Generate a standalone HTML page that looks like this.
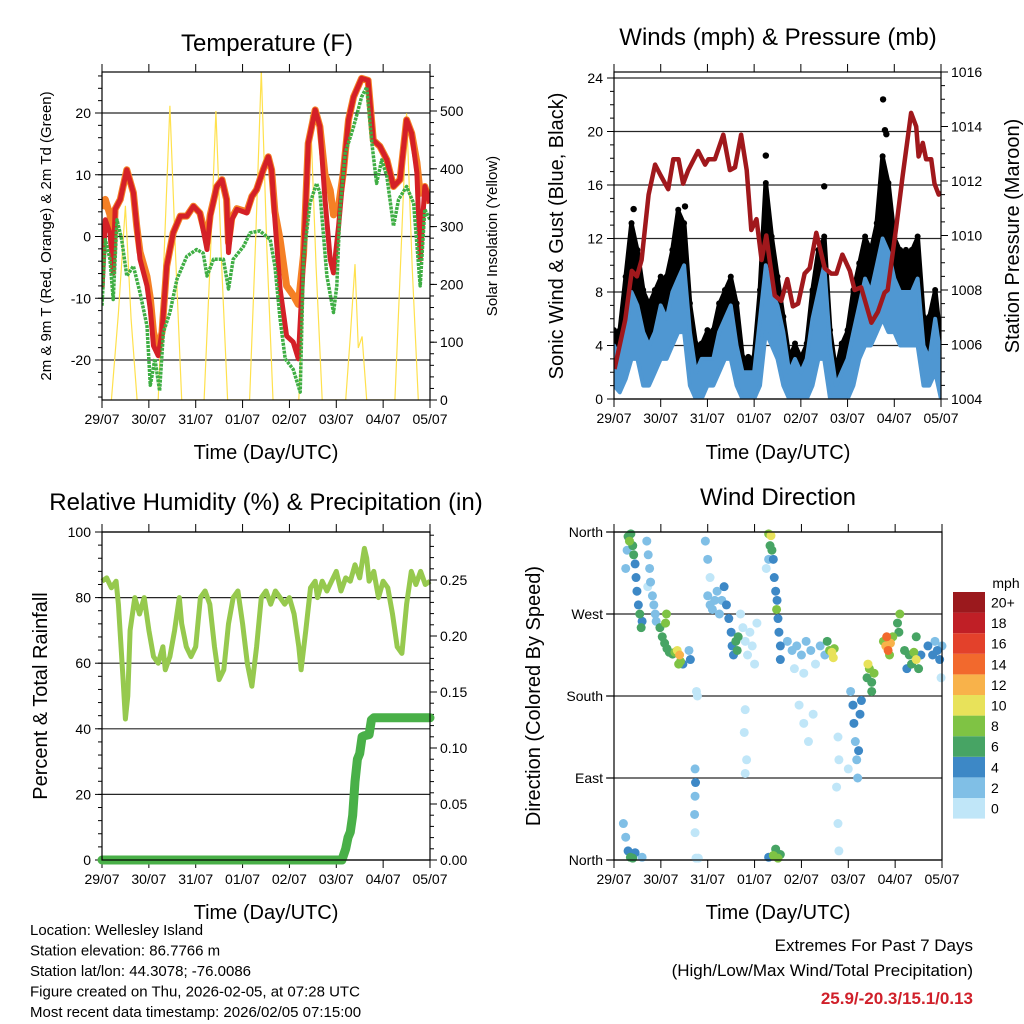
<!DOCTYPE html>
<html><head><meta charset="utf-8"><title>Weather station charts</title>
<style>
html,body{margin:0;padding:0;background:#fff;}
svg{display:block;font-family:"Liberation Sans",sans-serif;}
</style></head>
<body>
<svg id="s" width="1024" height="1024" viewBox="0 0 1024 1024" xmlns="http://www.w3.org/2000/svg">
<rect width="1024" height="1024" fill="#fff"/>
<text x="267" y="51" font-size="24" text-anchor="middle">Temperature (F)</text>
<text x="778" y="45" font-size="24" text-anchor="middle">Winds (mph) &amp; Pressure (mb)</text>
<text x="266" y="510" font-size="24" text-anchor="middle">Relative Humidity (%) &amp; Precipitation (in)</text>
<text x="778" y="505" font-size="24" text-anchor="middle">Wind Direction</text>
<text x="266" y="459" font-size="20" text-anchor="middle">Time (Day/UTC)</text>
<text x="778" y="459" font-size="20" text-anchor="middle">Time (Day/UTC)</text>
<text x="266" y="919" font-size="20" text-anchor="middle">Time (Day/UTC)</text>
<text x="778" y="919" font-size="20" text-anchor="middle">Time (Day/UTC)</text>
<text transform="translate(51,236) rotate(-90)" font-size="15" text-anchor="middle">2m &amp; 9m T (Red, Orange) &amp; 2m Td (Green)</text>
<text transform="translate(497,236) rotate(-90)" font-size="15" text-anchor="middle">Solar Insolation (Yellow)</text>
<text transform="translate(563,236) rotate(-90)" font-size="20" text-anchor="middle">Sonic Wind &amp; Gust (Blue, Black)</text>
<text transform="translate(1019,236) rotate(-90)" font-size="20" text-anchor="middle">Station Pressure (Maroon)</text>
<text transform="translate(47,696) rotate(-90)" font-size="20" text-anchor="middle">Percent &amp; Total Rainfall</text>
<text transform="translate(540,696) rotate(-90)" font-size="20" text-anchor="middle">Direction (Colored By Speed)</text>
<g font-size="15">
<text x="30" y="935">Location: Wellesley Island</text>
<text x="30" y="955.5">Station elevation: 86.7766 m</text>
<text x="30" y="976">Station lat/lon: 44.3078; -76.0086</text>
<text x="30" y="996.5">Figure created on Thu, 2026-02-05, at 07:28 UTC</text>
<text x="30" y="1017">Most recent data timestamp: 2026/02/05 07:15:00</text>
</g>
<text x="973" y="951" font-size="17" text-anchor="end">Extremes For Past 7 Days</text>
<text x="973" y="976" font-size="17" text-anchor="end">(High/Low/Max Wind/Total Precipitation)</text>
<text x="973" y="1004" font-size="17" font-weight="bold" fill="#d0202a" text-anchor="end">25.9/-20.3/15.1/0.13</text>
</svg>
<script>
// ---------- DATA ----------
var dayLabels = ["29/07","30/07","31/07","01/07","02/07","03/07","04/07","05/07"];
var tempTimes = [0,0.07,0.17,0.24,0.28,0.39,0.53,0.67,0.74,0.81,0.96,1.03,1.10,1.20,1.28,1.38,1.52,1.67,1.81,1.95,2.09,2.20,2.24,2.31,2.45,2.56,2.66,2.70,2.77,2.88,3.09,3.20,3.30,3.44,3.55,3.62,3.69,3.80,3.94,4.08,4.19,4.30,4.40,4.55,4.65,4.76,4.87,4.94,5.05,5.15,5.26,5.37,5.54,5.68,5.79,5.93,6.08,6.22,6.36,6.50,6.61,6.72,6.79,6.89,7.0];
var temp2m = [-8.5,2.7,0.6,-5.9,4.4,6.0,10.8,7.1,1.7,-3.7,-8.0,-11.8,-17.7,-19.3,-15.5,-4.8,0.6,3.3,3.3,4.9,3.8,-0.5,-2.1,3.3,8.1,9.2,6.0,-2.6,2.7,4.4,3.8,6.5,7.6,10.8,12.9,10.8,2.7,-8.5,-16.1,-17.1,-19.8,-3.7,15.1,20.5,17.8,6.0,-3.7,-5.9,1.7,10.3,18.9,22.6,25.6,25.3,15.6,14.6,12.4,8.1,9.2,18.9,16.7,10.3,-3.7,8.1,5.4];
var temp9m = [4.5,6.0,3.5,-3.0,4.4,6.0,10.8,7.1,1.7,-2.5,-6.5,-10.0,-15.5,-18.5,-15.5,-4.8,0.6,3.3,3.3,4.9,3.8,0.5,-1.0,3.5,8.1,9.2,6.0,-1.0,3.0,4.5,4.0,6.5,7.6,10.8,12.9,10.8,4.0,-0.5,-8.0,-9.5,-11.0,-3.0,15.1,20.5,17.8,10.0,7.5,3.5,5.0,10.3,18.9,22.6,25.6,25.3,15.6,14.6,12.4,8.1,9.2,18.9,16.7,12.0,7.0,8.1,5.4];
var dewTimes = [0,0.07,0.17,0.24,0.32,0.42,0.53,0.67,0.81,0.96,1.03,1.13,1.23,1.31,1.45,1.60,1.81,2.02,2.16,2.24,2.38,2.59,2.70,2.80,3.02,3.16,3.37,3.59,3.69,3.80,3.91,4.08,4.23,4.30,4.44,4.58,4.65,4.80,4.94,5.01,5.08,5.19,5.37,5.54,5.65,5.76,5.86,5.97,6.08,6.22,6.33,6.50,6.65,6.79,6.89,7.0];
var dewPoint = [-11.2,-0.5,-3.7,-10.2,2.7,-0.5,-6.4,-4.8,-9.1,-14.5,-24.1,-19.8,-25.0,-15.5,-12.3,-6.9,-3.2,-2.1,-2.7,-6.4,-3.7,-3.7,-8.5,-3.7,-1.6,0.6,0.9,-0.5,-4.8,-13.4,-19.8,-21.5,-25.2,-3.7,5.4,8.6,7.1,-6.4,-12.3,-8.0,4.4,13.5,17.8,22.6,24.2,15.1,8.6,12.4,9.7,1.7,6.0,8.1,5.4,-8.0,4.4,2.7];
var solarTimes = [0.2,0.35,0.5,0.62,0.75, 1.2,1.33,1.45,1.57,1.7, 2.18,2.31,2.43,2.55,2.68, 3.15,3.28,3.40,3.52,3.65, 4.2,4.33,4.45,4.57,4.7, 5.2,5.3,5.4,5.47,5.55,5.65, 6.25,6.38,6.5,6.62,6.75];
var solarVals  = [0,150,336,140,0, 0,260,509,250,0, 0,240,500,240,0, 0,280,570,260,0, 0,240,493,230,0, 0,110,235,90,110,0, 0,250,496,230,0];

var windTimes = [];
for (var k = 0; k <= 56; k++) windTimes.push(k * 0.125);
var windHigh = [4,3,5,8,7,5,4,5,7,6,8,9,10,5,2,3,3,3,5,6,7,4,2,2,2,6,10,8,7,5,2,3,2,3,6,8,10,4,1,2,3,5,7,9,8,10,12,11,9,8,8,8,9,4,3,6,3];
var windLow  = [1,0.5,1.5,3,3,1,1,2,3,3,4,5,5,1,0,0,1,1,2,3,3,1,0,0,0,1,5,4,3,1,0,0,0,0,1,3,3,0,0,0,0,1,3,4,4,5,6,5,5,4,4,4,4,1,1,2,0];
var gustVals = [5,5,9,13,11,8,7,8,9,9,11,14,13,7,4,4,5,5,7,8,9,7,3,3,3,8,16,12,9,6,3,4,3,4,8,11,12,5,2,4,5,8,10,12,11,13,18,16,12,11,11,11,12,6,6,8,4];
var spikeTimes = [5.76,5.80,5.83,3.25,4.50,1.52,0.42];
var spikeVals  = [22.4,20.1,19.8,18.2,15.9,14.4,14.2];
var presTimes = [0.01,0.24,0.38,0.49,0.59,0.74,0.88,1.0,1.16,1.27,1.38,1.48,1.59,1.80,1.95,2.02,2.16,2.34,2.48,2.59,2.72,2.84,2.94,3.05,3.16,3.26,3.33,3.44,3.58,3.71,3.83,3.94,4.08,4.19,4.33,4.51,4.65,4.76,4.89,5.05,5.15,5.29,5.51,5.65,5.79,5.86,6.04,6.18,6.36,6.47,6.52,6.61,6.68,6.79,6.86,6.95,7.0];
var presVals = [1005.1,1006.9,1008.7,1008.5,1009.1,1011.5,1012.6,1012.2,1011.7,1012.8,1012.8,1011.9,1012.4,1013.1,1012.6,1012.8,1012.8,1013.7,1012.4,1012.5,1013.7,1012.4,1010.2,1010.6,1009.1,1010.0,1009.1,1007.8,1007.6,1008.4,1007.4,1007.5,1008.6,1008.8,1010.1,1008.8,1008.6,1008.6,1009.3,1008.7,1008.0,1008.1,1006.8,1007.2,1007.9,1008.0,1010.3,1012.2,1014.5,1014.0,1012.9,1013.4,1012.8,1012.8,1011.9,1011.5,1011.6];

var rhTimes = [0,0.1,0.2,0.3,0.35,0.45,0.5,0.55,0.6,0.7,0.8,0.9,1.0,1.1,1.2,1.3,1.35,1.45,1.55,1.65,1.7,1.8,1.9,2.0,2.1,2.2,2.3,2.4,2.5,2.6,2.7,2.8,2.9,3.0,3.1,3.2,3.3,3.4,3.5,3.6,3.7,3.8,3.9,4.0,4.1,4.2,4.25,4.35,4.45,4.55,4.6,4.7,4.8,4.9,5.0,5.1,5.2,5.3,5.4,5.5,5.6,5.65,5.7,5.8,5.9,6.0,6.1,6.2,6.3,6.4,6.5,6.6,6.7,6.8,6.9,7.0];
var rhVals = [85,86,83,85,78,55,43,50,70,80,75,80,70,62,60,65,58,62,70,80,72,65,62,65,80,82,78,65,55,58,72,80,82,72,60,53,65,80,82,78,82,80,78,80,75,65,58,70,83,85,80,85,82,85,88,82,86,85,90,86,95,92,85,88,80,85,83,75,65,63,78,88,84,88,84,85];
var rainTimes = [0,5.12,5.2,5.25,5.3,5.35,5.4,5.45,5.5,5.55,5.6,5.7,5.75,5.8,7.0];
var rainVals  = [0,0,0.01,0.02,0.025,0.04,0.07,0.09,0.095,0.11,0.111,0.112,0.125,0.127,0.127];

var dirTimes = [0.30,0.33,0.36,0.40,0.42,0.28,0.25, 0.45,0.47,0.49,0.52,0.55,0.58,0.60, 0.70,0.73,0.76,0.78,0.82,0.85,0.88,0.90,0.72, 0.98,1.03,1.08,1.13,1.18,1.25,1.30,1.35,1.40,1.38,1.42,1.47,1.10,1.12, 1.63,1.60,1.76,1.78,1.73,1.74,1.73,1.72,1.73,1.75,1.80, 1.95,2.00,2.05,2.00,2.05,2.10,2.15,2.20,2.25,2.30,2.35,2.40,2.45,2.50,2.52,2.55,2.60,2.65,2.63, 2.70,2.75,2.80,2.85,2.90,2.95,3.00,3.05,2.80,2.78,2.80,2.83, 3.30,3.35,3.33,3.37,3.40,3.42,3.45,3.48,3.47,3.50,3.52,3.55,3.55,3.30,3.25, 3.70,3.80,3.90,4.00,4.10,4.20,4.30,4.40,4.50,3.85,4.05,4.55,4.60,4.65,4.70,4.68, 3.95,4.05,4.15,4.25,4.78,4.80,4.75,4.78,4.80, 5.05,5.10,5.12,5.15,5.18,5.20,5.22,5.25,5.28,5.00, 5.40,5.45,5.50,5.55,5.50,5.42, 5.75,5.80,5.82,5.85,5.90,5.95,5.88,6.05,6.10,6.08, 6.20,6.30,6.35,6.40,6.45,6.50,6.55,6.25,6.45, 6.70,6.80,6.85,6.90,6.95,7.00,6.98, 0.20,0.25,0.30,0.35,0.40,0.45,0.60,3.40,3.45,3.50,3.55,3.30];
var dirDeg = [355,350,358,345,335,340,320, 325,310,295,280,270,255,262, 350,335,320,305,290,280,270,262,300, 255,245,238,232,228,226,228,230,225,215,218,215,260,270, 220,230,185,180,100,85,70,50,30,2,2, 350,330,310,290,280,275,285,295,270,285,300,280,265,250,235,225,240,245,230, 270,255,240,225,250,235,215,260,165,140,95,110, 358,356,345,340,330,310,295,285,275,265,250,235,220,330,320, 240,230,235,225,240,230,215,235,225,210,205,240,230,228,232,222, 170,150,130,160,135,110,80,40,10, 185,170,150,130,110,90,120,160,175,100, 200,210,195,205,185,215, 240,235,245,230,238,245,225,260,270,250, 230,225,215,228,220,210,225,210,245, 235,225,240,230,220,235,200, 40,25,10,3,2,8,3,5,12,2,6,3];
var dirSpeed = [7,8,6,7,6,3,2, 4,4,4,4,6,6,4, 2,2,2,2,3,2,2,3,1, 6,7,6,7,6,7,8,10,12,9,8,4,8,8, 4,3,1,1,2,4,3,2,1,1,1, 2,2,1,3,2,2,2,3,2,3,4,4,4,4,5,4,7,7,6, 1,1,1,1,0,1,1,1,1,0,1,0, 8,10,6,7,5,5,4,4,8,4,4,4,4,2,1, 2,2,3,2,2,3,1,2,3,1,1,7,8,11,9,10, 1,1,1,1,1,1,1,1,0, 3,4,4,3,3,2,4,4,4,1, 7,8,7,9,7,10, 9,12,14,15,13,8,8,7,8,7, 6,7,6,8,10,6,5,5,6, 4,4,3,4,4,3,1, 2,3,5,7,6,4,3,8,6,9,7,4];
var speedBinLabels = ["0","2","4","6","8","10","12","14","16","18","20+"];
var speedBinColors = ["#c0e6f8","#80bfe6","#3d88c6","#47a464","#7fc344","#e8e25a","#f8b24a","#f2692d","#e3412b","#c01f26","#9b191d"];

// ---------- HELPERS ----------
var svg = document.getElementById('s');
var NS = 'http://www.w3.org/2000/svg';
function mk(tag, attrs, name, parent) {
  var el = document.createElementNS(NS, tag);
  for (var k in attrs) el.setAttribute(k, attrs[k]);
  
  
  (parent || svg).appendChild(el);
  return el;
}
function txt(x, y, s, size, anchor, name, parent) {
  var t = mk('text', {x: x, y: y, 'font-size': size, 'text-anchor': anchor}, name, parent);
  t.textContent = s;
  return t;
}
function pts(xs, ys, fx, fy) {
  var a = [];
  for (var i = 0; i < xs.length; i++) a.push(fx(xs[i]).toFixed(1) + ',' + fy(ys[i]).toFixed(1));
  return a.join(' ');
}

function panel(box, name, opt) {
  var g = mk('g', {}, name + '-axes');
  opt.left.forEach(function (v) {
    var y = opt.ly(v);
    mk('line', {x1: box.x0 - (opt.gridExt || 0), x2: box.x1, y1: y, y2: y, stroke: '#000', 'stroke-width': 1.2, 'stroke-opacity': 0.85}, name + '-gridline', g);
  });
  for (var d = 0; d <= 7; d++) {
    var x = box.x0 + d * (box.x1 - box.x0) / 7;
    mk('line', {x1: x, x2: x, y1: box.y1, y2: box.y1 + 8, stroke: '#000', 'stroke-width': 1}, name + '-x-tick', g);
    mk('line', {x1: x, x2: x, y1: box.y0, y2: box.y0 - 8, stroke: '#000', 'stroke-width': 1}, name + '-x-tick-top', g);
    txt(x, box.y1 + 24, dayLabels[d], 14, 'middle', name + '-x-tick-label', g);
  }
  opt.left.forEach(function (v, i) {
    var y = opt.ly(v);
    mk('line', {x1: box.x0 - 7, x2: box.x0, y1: y, y2: y, stroke: '#000'}, name + '-y-tick', g);
    txt(box.x0 - 11, y + 5, opt.leftLabels ? opt.leftLabels[i] : String(v), 14, 'end', name + '-y-tick-label', g);
  });
  (opt.leftMinor || []).forEach(function (v) {
    var y = opt.ly(v);
    mk('line', {x1: box.x0 - 4, x2: box.x0, y1: y, y2: y, stroke: '#000'}, name + '-y-minor-tick', g);
  });
  if (opt.right) {
    opt.right.forEach(function (v, i) {
      var y = opt.ry(v);
      mk('line', {x1: box.x1, x2: box.x1 + 7, y1: y, y2: y, stroke: '#000'}, name + '-right-tick', g);
      txt(box.x1 + 10, y + 5, opt.rightLabels[i], 14, 'start', name + '-right-tick-label', g);
    });
    (opt.rightMinor || []).forEach(function (v) {
      var y = opt.ry(v);
      mk('line', {x1: box.x1, x2: box.x1 + 4, y1: y, y2: y, stroke: '#000'}, name + '-right-minor-tick', g);
    });
  }
  return g;
}
function frame(box, name) {
  mk('rect', {x: box.x0, y: box.y0, width: box.x1 - box.x0, height: box.y1 - box.y0, fill: 'none', stroke: '#000', 'stroke-width': 1.2}, name + '-frame');
}
function range(a, b, s) { var r = []; for (var v = a; v <= b + 1e-9; v += s) r.push(+v.toFixed(3)); return r; }

// ---------- PANEL 1: TEMPERATURE ----------
var B1 = {x0: 102, x1: 430, y0: 72, y1: 400};
function tx(d) { return B1.x0 + d * (B1.x1 - B1.x0) / 7; }
function ty(t) { return 236.5 - t * 6.175; }
function sy(v) { return 400 - v * 0.578; }
var tempLeft = [-20, -10, 0, 10, 20];
panel(B1, 'temp', {left: tempLeft, ly: ty, leftMinor: range(-26, 26, 2),
  right: [0, 100, 200, 300, 400, 500], rightLabels: ['0', '100', '200', '300', '400', '500'], ry: sy, rightMinor: range(0, 560, 20)});
var cp1 = mk('clipPath', {id: 'c1'}, 'temp-clip');
mk('rect', {x: B1.x0, y: B1.y0, width: B1.x1 - B1.x0, height: B1.y1 - B1.y0}, 'temp-clip-rect', cp1);
var g1 = mk('g', {'clip-path': 'url(#c1)'}, 'temp-series');
mk('polyline', {points: pts(solarTimes, solarVals, tx, sy), fill: 'none', stroke: '#ffe14d', 'stroke-width': 1.2}, 'solar-line', g1);
mk('polyline', {points: pts(tempTimes, temp9m, tx, ty), fill: 'none', stroke: '#f58025', 'stroke-width': 7, 'stroke-linejoin': 'round'}, 'temp-9m-line', g1);
mk('polyline', {points: pts(tempTimes, temp2m, tx, ty), fill: 'none', stroke: '#d42027', 'stroke-width': 5, 'stroke-linejoin': 'round'}, 'temp-2m-line', g1);
mk('polyline', {points: pts(dewTimes, dewPoint, tx, ty), fill: 'none', stroke: '#3fae44', 'stroke-width': 3.5, 'stroke-dasharray': '3,1', 'stroke-linejoin': 'round'}, 'dewpoint-line', g1);
frame(B1, 'temp');

// ---------- PANEL 2: WIND & PRESSURE ----------
var B2 = {x0: 614, x1: 941, y0: 72, y1: 399};
function wx(d) { return B2.x0 + d * (B2.x1 - B2.x0) / 7; }
function wy(v) { return 399 - v * 13.375; }
function py(p) { return 399 - (p - 1004) * 27.25; }
panel(B2, 'wind', {left: [0, 4, 8, 12, 16, 20, 24], ly: wy, leftMinor: range(0, 24, 1),
  right: [1004, 1006, 1008, 1010, 1012, 1014, 1016], rightLabels: ['1004', '1006', '1008', '1010', '1012', '1014', '1016'], ry: py, rightMinor: range(1004, 1016, 0.5)});
var cp2 = mk('clipPath', {id: 'c2'}, 'wind-clip');
mk('rect', {x: B2.x0, y: B2.y0, width: B2.x1 - B2.x0, height: B2.y1 - B2.y0}, 'wind-clip-rect', cp2);
var g2 = mk('g', {'clip-path': 'url(#c2)'}, 'wind-series');
var up = [], lo = [];
for (var i = 0; i < windTimes.length; i++) {
  up.push(wx(windTimes[i]).toFixed(1) + ',' + wy(gustVals[i]).toFixed(1));
  lo.unshift(wx(windTimes[i]).toFixed(1) + ',' + wy(windLow[i] + (windHigh[i] - windLow[i]) * 0.4).toFixed(1));
}
mk('polygon', {points: up.concat(lo).join(' '), fill: '#000', stroke: '#000', 'stroke-width': 5, 'stroke-linejoin': 'round'}, 'gust-cloud', g2);
for (var i = 0; i < windTimes.length; i++) {
  mk('circle', {cx: wx(windTimes[i]), cy: wy(gustVals[i]) - 2, r: 3}, 'gust-point', g2);
}
for (var i = 0; i < spikeTimes.length; i++) {
  mk('circle', {cx: wx(spikeTimes[i]), cy: wy(spikeVals[i]), r: 3.2}, 'gust-spike-point', g2);
}
var bu = [], bl = [];
for (var i = 0; i < windTimes.length; i++) {
  bu.push(wx(windTimes[i]).toFixed(1) + ',' + wy(windHigh[i]).toFixed(1));
  bl.unshift(wx(windTimes[i]).toFixed(1) + ',' + wy(windLow[i]).toFixed(1));
}
mk('polygon', {points: bu.concat(bl).join(' '), fill: '#4f97d2', stroke: '#4f97d2', 'stroke-width': 4, 'stroke-linejoin': 'round'}, 'sonic-wind-band', g2);
mk('polyline', {points: pts(presTimes, presVals, wx, py), fill: 'none', stroke: '#a0181c', 'stroke-width': 4.5, 'stroke-linejoin': 'round'}, 'pressure-line', g2);
frame(B2, 'wind');

// ---------- PANEL 3: RH & PRECIP ----------
var B3 = {x0: 102, x1: 430, y0: 532, y1: 860};
function rx(d) { return B3.x0 + d * (B3.x1 - B3.x0) / 7; }
function ry(v) { return 860 - v * 3.28; }
function pry(p) { return 860 - p * 1120; }
panel(B3, 'rh', {left: [0, 20, 40, 60, 80, 100], ly: ry, leftMinor: range(0, 100, 4),
  right: [0, 0.05, 0.1, 0.15, 0.2, 0.25], rightLabels: ['0.00', '0.05', '0.10', '0.15', '0.20', '0.25'], ry: pry, rightMinor: range(0, 0.29, 0.01)});
var g3 = mk('g', {}, 'rh-series');
mk('polyline', {points: pts(rhTimes, rhVals, rx, ry), fill: 'none', stroke: '#96c94e', 'stroke-width': 5, 'stroke-linejoin': 'round'}, 'rh-line', g3);
mk('polyline', {points: pts(rainTimes, rainVals, rx, pry), fill: 'none', stroke: '#49b048', 'stroke-width': 9, 'stroke-linejoin': 'round', 'stroke-linecap': 'round'}, 'precip-line', g3);
frame(B3, 'rh');

// ---------- PANEL 4: WIND DIRECTION ----------
var B4 = {x0: 614, x1: 942, y0: 532, y1: 860};
function dx(d) { return B4.x0 + d * (B4.x1 - B4.x0) / 7; }
function dy(deg) { return 860 - deg * 328 / 360; }
panel(B4, 'dir', {left: [0, 90, 180, 270, 360], ly: dy, leftLabels: ['North', 'East', 'South', 'West', 'North'], gridExt: 8});
var g4 = mk('g', {}, 'dir-series');
var order = dirTimes.map(function (_, i) { return i; }).sort(function (a, b) { return dirSpeed[a] - dirSpeed[b]; });
order.forEach(function (i) {
  var bin = Math.min(10, Math.floor(dirSpeed[i] / 2));
  mk('circle', {cx: dx(dirTimes[i]), cy: dy(dirDeg[i]), r: 4.5, fill: speedBinColors[bin]}, 'direction-point', g4);
});
frame(B4, 'dir');

var cb = mk('g', {}, 'speed-colorbar');
txt(1006, 588, 'mph', 14, 'middle', 'colorbar-title', cb);
for (var i = 0; i < speedBinColors.length; i++) {
  var y = 592 + (10 - i) * 20.6;
  mk('rect', {x: 953, y: y, width: 32, height: 20.6, fill: speedBinColors[i]}, 'colorbar-swatch', cb);
  txt(991, y + 15.5, speedBinLabels[i], 14, 'start', 'colorbar-label', cb);
}
</script>
</body></html>
